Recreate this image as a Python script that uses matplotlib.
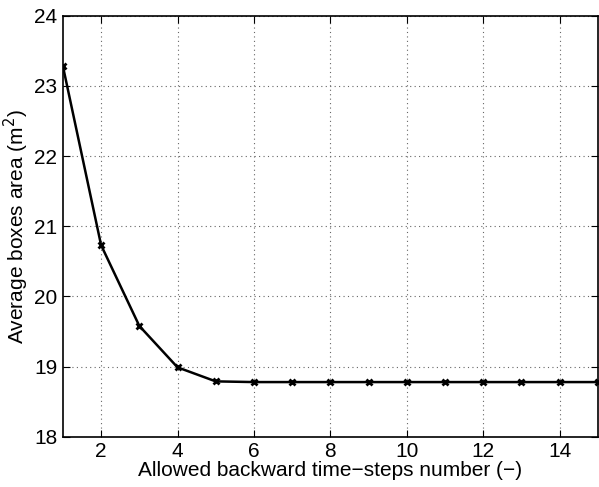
import numpy as np
import matplotlib.pyplot as plt

plt.rcParams['font.family'] = ['Liberation Sans', 'DejaVu Sans']

steps = [1, 2, 3, 4, 5, 6, 7, 8, 9, 10, 11, 12, 13, 14, 15]
area = [23.28, 20.73, 19.58, 18.99, 18.79, 18.78, 18.78, 18.78, 18.78,
        18.78, 18.78, 18.78, 18.78, 18.78, 18.78]

fig = plt.figure(figsize=(5.99, 4.87), dpi=100)
ax = fig.add_axes([0.105, 0.103, 0.893, 0.865])
ax.plot(steps, area, color='black', linewidth=1.8, marker='x',
        markersize=4, markeredgewidth=2)

ax.set_xlim(1, 15)
ax.set_ylim(18, 24)
ax.set_xticks([2, 4, 6, 8, 10, 12, 14])
ax.set_yticks([18, 19, 20, 21, 22, 23, 24])
ax.grid(True, linestyle=(0, (1, 3)), color='#666666', linewidth=0.8)
ax.tick_params(direction='in', top=True, right=True, labelsize=15,
               length=5, width=0.8, pad=4)
for s in ax.spines.values():
    s.set_linewidth(1.2)

ax.set_xlabel('Allowed backward time\u2212steps number (\u2212)', fontsize=15, labelpad=0)
ax.set_ylabel('Average boxes area (m$^2$)', fontsize=15, labelpad=2)

fig.savefig('out.png', dpi=100)
